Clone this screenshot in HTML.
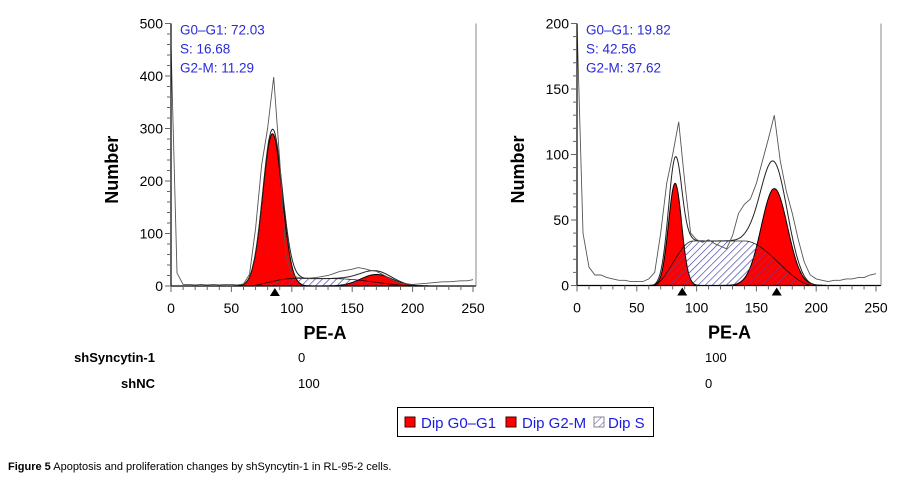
<!DOCTYPE html>
<html><head><meta charset="utf-8"><style>
body{margin:0;background:#fff;width:900px;height:483px;overflow:hidden;font-family:"Liberation Sans",sans-serif}
svg{position:absolute;left:0;top:0}
</style></head><body>
<svg width="900" height="483" viewBox="0 0 900 483">
<defs>
<pattern id="hatch" patternUnits="userSpaceOnUse" width="5" height="5" patternTransform="rotate(45)">
<line x1="0" y1="0" x2="0" y2="5" stroke="#5050b0" stroke-width="1.1"/>
</pattern>
</defs>
<g id="charts"></g>
<g font-size="13">
<text x="155" y="362" text-anchor="end" font-weight="bold">shSyncytin-1</text>
<text x="298" y="362">0</text>
<text x="705" y="362">100</text>
<text x="155" y="388" text-anchor="end" font-weight="bold">shNC</text>
<text x="298" y="388">100</text>
<text x="705" y="388">0</text>
</g>
<g font-size="15" fill="#1a1ae0">
<rect x="397.5" y="407.5" width="256" height="29" fill="#fff" stroke="#000"/>
<rect x="405" y="417" width="10" height="10" fill="#f00" stroke="#400"/>
<text x="421" y="428">Dip G0–G1</text>
<rect x="506" y="417" width="10" height="10" fill="#f00" stroke="#400"/>
<text x="522" y="428">Dip G2-M</text>
<rect x="594" y="417" width="10" height="10" fill="url(#hatch)" stroke="#888"/>
<text x="608" y="428">Dip S</text>
</g>
<text x="8" y="470" font-size="11"><tspan font-weight="bold">Figure 5</tspan> Apoptosis and proliferation changes by shSyncytin-1 in RL-95-2 cells.</text>
</svg>
<script>
const xTicks = [0,50,100,150,200,250];
const leftYTicks = [0,100,200,300,400,500];
const rightYTicks = [0,50,100,150,200];
const leftStats = ["G0–G1: 72.03","S: 16.68","G2-M: 11.29"];
const rightStats = ["G0–G1: 19.82","S: 42.56","G2-M: 37.62"];
// gaussian fits: [mean, sd, height]
const leftG1 = [84, 8, 290];
const leftG2 = [170, 13, 22];
const rightG1 = [82, 5.5, 78];
const rightG2 = [165, 11, 74];
// S phase: [riseStart, riseEnd, fallStart, fallEnd, height]
const leftS = [62, 100, 135, 205, 14];
const rightS = [63, 97, 140, 198, 34];
const leftMarkers = [86];
const rightMarkers = [88, 167];
const rawX = [0,5,10,15,20,25,30,35,40,45,50,55,60,65,70,75,80,85,90,95,100,105,110,115,120,125,130,135,140,145,150,155,160,165,170,175,180,185,190,195,200,205,210,215,220,225,230,235,240,245,250];
const leftRaw = [460,25,3,3,2,3,2,3,2,3,3,2,4,22,110,230,300,398,240,60,22,16,15,15,16,18,20,24,28,30,32,35,33,30,28,22,16,10,6,4,3,4,5,6,7,8,8,9,10,10,12];
const rightRaw = [200,40,14,8,8,6,5,4,4,3,3,3,5,10,40,78,100,125,80,40,35,33,35,32,30,28,38,55,62,66,78,95,112,130,95,72,55,35,18,8,5,4,3,4,4,5,5,6,6,8,9];

const NS="http://www.w3.org/2000/svg";
const root=document.getElementById('charts');
function mk(tag,attrs,parent){const e=document.createElementNS(NS,tag);for(const k in attrs)e.setAttribute(k,attrs[k]);(parent||root).appendChild(e);return e;}
function gauss(p,x){return p[2]*Math.exp(-0.5*((x-p[0])/p[1])**2);}
function sfun(p,x){const ss=t=>t<=0?0:t>=1?1:t*t*(3-2*t);return p[4]*ss((x-p[0])/(p[1]-p[0]))*(1-ss((x-p[2])/(p[3]-p[2])));}

function panel(o){
  const g=mk('g',{});
  
  
  const ymax=o.yt[o.yt.length-1];
  const major=o.yt[1]-o.yt[0];
  const X=v=>o.x0+(v/250)*(o.x1-o.x0);
  const Y=v=>o.y0-(v/ymax)*(o.y0-o.y1);
  const clampY=v=>Math.max(o.y1,Y(v));
  const path=(f,a,b)=>{let d='';for(let x=a;x<=b;x+=0.5){d+=(d?'L':'M')+X(x).toFixed(1)+','+Y(f(x)).toFixed(1);}return d;};
  const area=(f,a,b)=>path(f,a,b)+'L'+X(b)+','+Y(0)+'L'+X(a)+','+Y(0)+'Z';
  const s1=mk('path',{d:area(x=>sfun(o.S,x),o.S[0],o.S[3]),fill:'#fff'},g);
  
  mk('path',{d:area(x=>sfun(o.S,x),o.S[0],o.S[3]),fill:'url(#hatch)'},g);
  const a=mk('path',{d:area(x=>gauss(o.G1,x),o.G1[0]-4*o.G1[1],o.G1[0]+4*o.G1[1]),fill:'#f00',stroke:'#000','stroke-width':1},g);
  
  const b=mk('path',{d:area(x=>gauss(o.G2,x),o.G2[0]-4*o.G2[1],o.G2[0]+4*o.G2[1]),fill:'#f00',stroke:'#000','stroke-width':1},g);
  
  const s2=mk('path',{d:area(x=>sfun(o.S,x),o.S[0],o.S[3]),fill:'url(#hatch)',stroke:'#000','stroke-width':0.8,opacity:0.85},g);
  
  const fit=mk('path',{d:path(x=>gauss(o.G1,x)+gauss(o.G2,x)+sfun(o.S,x),55,215),fill:'none',stroke:'#222','stroke-width':1},g);
  
  let d='';rawX.forEach((x,i)=>{d+=(i?'L':'M')+X(x).toFixed(1)+','+clampY(o.raw[i]).toFixed(1);});
  const r=mk('path',{d:d,fill:'none',stroke:'#555','stroke-width':0.9},g);
  
  mk('line',{x1:o.x0,y1:o.y1,x2:o.x0,y2:o.y0,stroke:'#000','stroke-width':1.2},g);
  mk('line',{x1:o.x0,y1:o.y0,x2:o.xr,y2:o.y0,stroke:'#000','stroke-width':1.2},g);
  mk('line',{x1:o.xr,y1:o.y1,x2:o.xr,y2:o.y0,stroke:'#888','stroke-width':1},g);
  for(let v=0;v<=250;v+=10){mk('line',{x1:X(v),x2:X(v),y1:o.y0,y2:o.y0+(v%50?4:6),stroke:'#666'},g);}
  xTicks.forEach(v=>{const t=mk('text',{x:X(v),y:o.y0+27,'text-anchor':'middle','font-size':14},g);t.textContent=v;});
  const step=major/5;
  for(let i=0;i*step<=ymax+0.001;i++){const v=i*step;mk('line',{x1:o.x0-(i%5?4:6),x2:o.x0,y1:Y(v),y2:Y(v),stroke:'#666'},g);}
  o.yt.forEach(v=>{const t=mk('text',{x:o.x0-8,y:Y(v)+5,'text-anchor':'end','font-size':14},g);t.textContent=v;});
  o.markers.forEach(m=>{const p=mk('path',{d:`M${X(m)-5},${o.y0+10}L${X(m)+5},${o.y0+10}L${X(m)},${o.y0+2}Z`,fill:'#000'},g);});
  o.stats.forEach((s,i)=>{const t=mk('text',{x:o.x0+9,y:o.y1+11+i*19,'font-size':13.5,fill:'#2a2ad8'},g);t.textContent=s;});
  const xt=mk('text',{x:(o.x0+o.x1)/2+3,y:o.y0+53,'text-anchor':'middle','font-size':18,'font-weight':'bold'},g);xt.textContent='PE-A';
  
  const yc=(o.y0+o.y1)/2+15;
  const yt=mk('text',{x:o.yx,y:yc,'text-anchor':'middle','font-size':18,'font-weight':'bold',transform:`rotate(-90 ${o.yx} ${yc})`},g);yt.textContent='Number';
  
}
panel({name:'histogram-shnc',x0:171,x1:473,xr:476,y0:286,y1:23.5,yt:leftYTicks,G1:leftG1,G2:leftG2,S:leftS,raw:leftRaw,markers:leftMarkers,stats:leftStats,yx:118});
panel({name:'histogram-shsyncytin',x0:577,x1:876,xr:881,y0:285.5,y1:23.5,yt:rightYTicks,G1:rightG1,G2:rightG2,S:rightS,raw:rightRaw,markers:rightMarkers,stats:rightStats,yx:524});
</script>
</body></html>
